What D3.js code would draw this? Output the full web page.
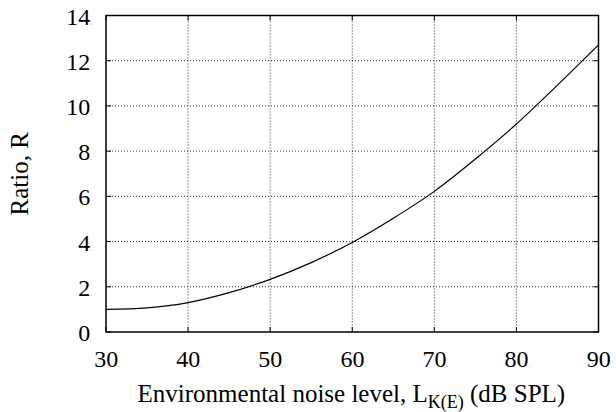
<!DOCTYPE html>
<html>
<head>
<meta charset="utf-8">
<script src="https://cdn.jsdelivr.net/npm/d3@7"></script>
<style>
  body { margin: 0; background: #fff; }
  svg { display: block; }
  text { font-family: "Liberation Serif", "DejaVu Serif", serif; fill: #000; }
</style>
</head>
<body>
<svg width="616" height="412"></svg>
<script>
// noise level (dB SPL) and ratio R
var noiseLevel = [30, 35, 40, 45, 50, 55, 60, 65, 70, 75, 80, 85, 90];
var ratioR = [1.0, 1.07, 1.3, 1.74, 2.33, 3.07, 3.96, 5.03, 6.22, 7.65, 9.2, 10.92, 12.7];

var xTicks = [30, 40, 50, 60, 70, 80, 90];
var yTicks = [0, 2, 4, 6, 8, 10, 12, 14];

var svg = d3.select("svg"),
    margin = {top: 15.5, right: 17.5, bottom: 80, left: 106};
var width = +svg.attr("width") - margin.left - margin.right,
    height = +svg.attr("height") - margin.top - margin.bottom;

var x = d3.scaleLinear().domain([30, 90]).range([0, width]);
var y = d3.scaleLinear().domain([0, 14]).range([height, 0]);

var g = svg.append("g")
    .attr("transform", "translate(" + margin.left + "," + margin.top + ")");

// dotted grid
g.selectAll(".vgrid")
    .data(xTicks.slice(1, -1))
  .enter().append("line")
    .attr("x1", d => x(d)).attr("x2", d => x(d))
    .attr("y1", 0).attr("y2", height)
    .style("stroke", "#333").style("stroke-width", 1)
    .style("stroke-dasharray", "1,2");

g.selectAll(".hgrid")
    .data(yTicks.slice(1, -1))
  .enter().append("line")
    .attr("x1", 0).attr("x2", width)
    .attr("y1", d => y(d)).attr("y2", d => y(d))
    .style("stroke", "#333").style("stroke-width", 1)
    .style("stroke-dasharray", "1,2");

// inward ticks on all four sides
var tl = 5;
xTicks.forEach(function(d) {
  g.append("line").attr("x1", x(d)).attr("x2", x(d)).attr("y1", height).attr("y2", height - tl)
    .style("stroke", "#000");
  g.append("line").attr("x1", x(d)).attr("x2", x(d)).attr("y1", 0).attr("y2", tl)
    .style("stroke", "#000");
});
yTicks.forEach(function(d) {
  g.append("line").attr("x1", 0).attr("x2", tl).attr("y1", y(d)).attr("y2", y(d))
    .style("stroke", "#000");
  g.append("line").attr("x1", width).attr("x2", width - tl).attr("y1", y(d)).attr("y2", y(d))
    .style("stroke", "#000");
});

// frame
g.append("rect")
    .attr("width", width).attr("height", height)
    .style("fill", "none").style("stroke", "#000").style("stroke-width", 1.5);

// curve
var line = d3.line()
    .x((d, i) => x(noiseLevel[i]))
    .y(d => y(d))
    .curve(d3.curveMonotoneX);

g.append("path")
    .datum(ratioR)
    .attr("d", line)
    .style("fill", "none").style("stroke", "#000").style("stroke-width", 1.2);

// tick labels
var xl = g.selectAll(".xl")
    .data(xTicks)
  .enter().append("text")
    .attr("x", d => x(d) + 1)
    .attr("y", height + 35)
    .attr("text-anchor", "middle")
    .style("font-size", "24px");
xl.append("tspan").text(d => d);
xl.append("tspan").text(".").style("font-size", "7px").style("fill", "#999");

var yl = g.selectAll(".yl")
    .data(yTicks)
  .enter().append("text")
    .attr("x", -14)
    .attr("y", d => y(d) + 9)
    .attr("text-anchor", "end")
    .style("font-size", "24px");
yl.append("tspan").text(d => d);
yl.append("tspan").text(".").style("font-size", "7px").style("fill", "#999");

// axis titles
var xt = svg.append("text")
    .attr("x", margin.left + width / 2)
    .attr("y", 402)
    .attr("text-anchor", "middle")
    .style("font-size", "25px");
xt.append("tspan").text("Environmental noise level, L");
xt.append("tspan").attr("dy", 6).style("font-size", "18px").text("K(E)");
xt.append("tspan").attr("dy", -6).text(" (dB SPL)");
xt.append("tspan").text(".").style("font-size", "7px").style("fill", "#999");

svg.append("text")
    .attr("transform", "translate(28," + (margin.top + height / 2) + ") rotate(-90)")
    .attr("text-anchor", "middle")
    .style("font-size", "25px")
    .text("Ratio, R");
</script>
</body>
</html>
